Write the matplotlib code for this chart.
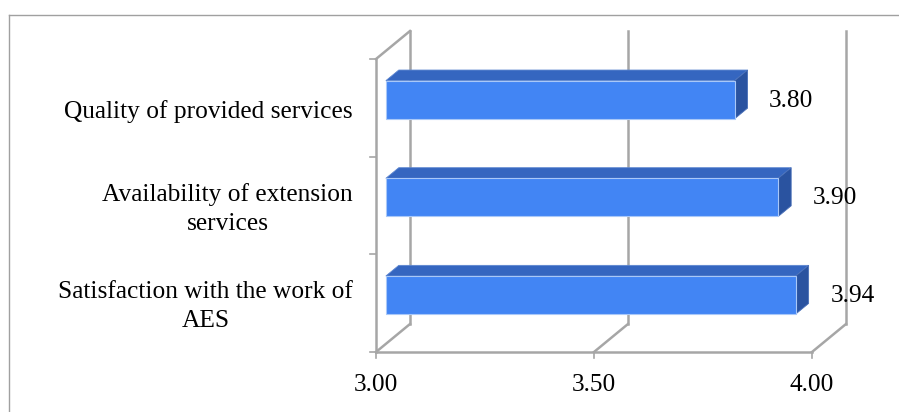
import matplotlib
matplotlib.use("Agg")
import matplotlib.pyplot as plt
from matplotlib.patches import Polygon
from matplotlib.lines import Line2D
import numpy as np

# ---- data ----
categories = ["Satisfaction with the work of\nAES",
              "Availability of extension\nservices",
              "Quality of provided services"]
values = [3.94, 3.90, 3.80]
xticks = [3.00, 3.50, 4.00]
xticklabels = ["3.00", "3.50", "4.00"]
xmin, xmax = 3.0, 4.0

W, H = 899, 412
fig = plt.figure(figsize=(W / 100, H / 100), dpi=100)
plt.rcParams['font.family'] = ['Liberation Serif', 'DejaVu Serif']
FS = 18.3

# front plane of the 3D plot area (pixels)
L, R, T, B = 376, 812, 59, 352
ax = fig.add_axes([L / W, 1 - B / H, (R - L) / W, (B - T) / H])
ax.set_xlim(xmin, xmax)
ax.set_ylim(-0.5, len(categories) - 0.5)
ax.axis("off")

# depth vector in data units (34 px right, 28 px up)
px_x = (xmax - xmin) / (R - L)
px_y = len(categories) / (B - T)
ddx, ddy = 34 * px_x, 28 * px_y

grid_c = "#a6a6a6"
lw = 1.8
y0, y1 = -0.5, len(categories) - 0.5

# back wall gridlines
for xv in xticks:
    ax.add_line(Line2D([xv + ddx, xv + ddx], [y0 + ddy, y1 + ddy], color=grid_c, lw=lw, clip_on=False, zorder=1))
    # floor diagonals
    ax.add_line(Line2D([xv, xv + ddx], [y0, y0 + ddy], color=grid_c, lw=lw, clip_on=False, zorder=1))
# left wall top diagonal
ax.add_line(Line2D([xmin, xmin + ddx], [y1, y1 + ddy], color=grid_c, lw=lw, clip_on=False, zorder=1))

# front axis lines
ax.add_line(Line2D([xmin, xmin], [y0, y1], color=grid_c, lw=lw, clip_on=False, zorder=5))
ax.add_line(Line2D([xmin, xmax], [y0, y0], color=grid_c, lw=lw, clip_on=False, zorder=5))
tick_len_x = 6 * px_x
tick_len_y = 6 * px_y
for k in range(len(categories) + 1):
    yy = -0.5 + k
    ax.add_line(Line2D([xmin - tick_len_x, xmin], [yy, yy], color=grid_c, lw=1.2, clip_on=False, zorder=5))
for xv, lab in zip(xticks, xticklabels):
    ax.add_line(Line2D([xv, xv], [y0, y0 - tick_len_y], color=grid_c, lw=1.2, clip_on=False, zorder=5))
    ax.text(xv, y0 - 33 * px_y, lab, ha="center", va="center", fontsize=FS)

# bars
bh = 0.39
f_front, f_back = 0.29, 0.67
fc_front, fc_top, fc_side = "#4285f4", "#3566c0", "#2a53a0"
for i, v in enumerate(values):
    fx, fy = f_front * ddx, f_front * ddy
    bx, by = f_back * ddx, f_back * ddy
    ytop, ybot = i + bh / 2, i - bh / 2
    front = [(xmin + fx, ybot + fy), (v + fx, ybot + fy), (v + fx, ytop + fy), (xmin + fx, ytop + fy)]
    top = [(xmin + fx, ytop + fy), (v + fx, ytop + fy), (v + bx, ytop + by), (xmin + bx, ytop + by)]
    side = [(v + fx, ybot + fy), (v + bx, ybot + by), (v + bx, ytop + by), (v + fx, ytop + fy)]
    ax.add_patch(Polygon(top, closed=True, fc=fc_top, ec="#5d86d0", lw=0.6, clip_on=False, zorder=3))
    ax.add_patch(Polygon(side, closed=True, fc=fc_side, ec="#4a70b8", lw=0.6, clip_on=False, zorder=3))
    ax.add_patch(Polygon(front, closed=True, fc=fc_front, ec="#a9c8f8", lw=0.8, clip_on=False, zorder=4))
    ax.text(v + 0.13 + fx, i + fy * 0.9, f"{v:.2f}", ha="center", va="center", fontsize=FS, zorder=6)

# category labels
for i, c in enumerate(categories):
    ax.text(xmin - 23 * px_x, i - 3.5 * px_y, c, ha="right", va="center", multialignment="center",
            fontsize=FS, linespacing=1.4)

# outer chart border
bc = "#a0a0a0"
fig.add_artist(Line2D([8.5 / W, 8.5 / W], [0, 1 - 14.5 / H], color=bc, lw=1, transform=fig.transFigure))
fig.add_artist(Line2D([8.5 / W, 1], [1 - 14.5 / H, 1 - 14.5 / H], color=bc, lw=1, transform=fig.transFigure))

fig.savefig("out.png", dpi=100)
